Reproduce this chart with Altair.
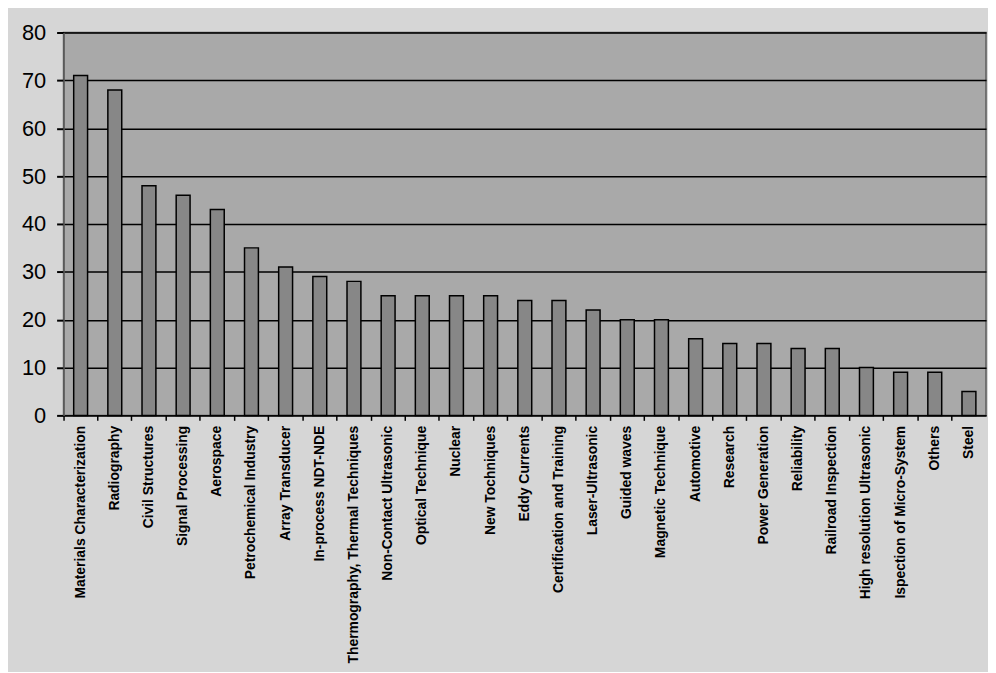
import altair as alt
import pandas as pd

categories = [
    "Materials Characterization", "Radiography", "Civil Structures", "Signal Processing",
    "Aerospace", "Petrochemical Industry", "Array Transducer", "In-process NDT-NDE",
    "Thermography, Thermal Techniques", "Non-Contact Ultrasonic", "Optical Technique",
    "Nuclear", "New Tochniques", "Eddy Currents", "Certification and Training",
    "Laser-Ultrasonic", "Guided waves", "Magnetic Technique", "Automotive", "Research",
    "Power Generation", "Reliability", "Railroad Inspection", "High resolution Ultrasonic",
    "Ispection of Micro-System", "Others", "Steel",
]
values = [71, 68, 48, 46, 43, 35, 31, 29, 28, 25, 25, 25, 25, 24, 24, 22, 20, 20,
          16, 15, 15, 14, 14, 10, 9, 9, 5]
y_ticks = [0, 10, 20, 30, 40, 50, 60, 70, 80]

df = pd.DataFrame({"cat": categories, "val": values})

W, H = 930, 386

chart = alt.Chart(df).mark_bar(
    size=14, color="#878787", stroke="#000000", strokeWidth=1.5
).encode(
    x=alt.X("cat:N", sort=None, title=None,
            scale=alt.Scale(paddingInner=0, paddingOuter=0),
            axis=alt.Axis(labelAngle=270, labelFont="Liberation Sans", labelFontSize=14,
                          labelFontWeight="bold",
                          labelColor="#000000", labelPadding=5, labelLimit=400,
                          bandPosition=0,
                          tickColor="#000000", tickSize=5, tickWidth=1.5,
                          domainColor="#000000", domainWidth=1.5)),
    y=alt.Y("val:Q", title=None,
            scale=alt.Scale(domain=[0, 80], nice=False),
            axis=alt.Axis(values=y_ticks, labelFont="Liberation Sans", labelFontSize=22,
                          labelColor="#000000", labelPadding=11,
                          tickColor="#000000", tickSize=7, tickWidth=2,
                          domainColor="#5a5a5a", domainWidth=1.5,
                          grid=True, gridColor="#000000", gridWidth=1.5)),
).properties(
    width=W, height=H,
    autosize=alt.AutoSizeParams(type="none"),
    padding={"left": 56, "top": 22, "right": 2, "bottom": 256},
    background="#d6d6d6",
).configure_view(
    fill="#a9a9a9", stroke="#5a5a5a", strokeWidth=1.5
)

chart.save("out.html", embed_options={"renderer": "svg", "actions": False})
